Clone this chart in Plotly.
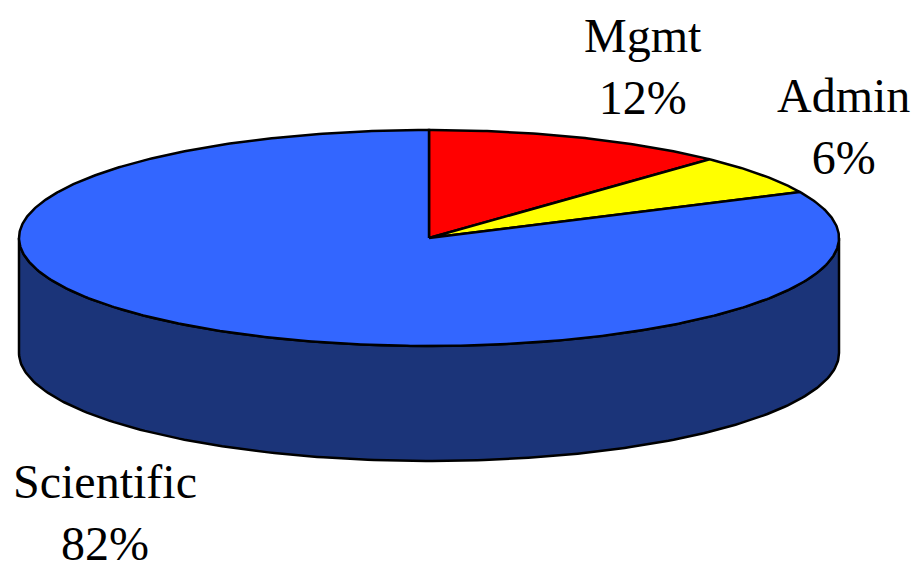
import numpy as np
import plotly.graph_objects as go

# Staff breakdown by category
labels = ["Mgmt", "Admin", "Scientific"]
values = [12, 6, 82]
colors = ["#FF0000", "#FFFF00", "#3366FF"]
side_color = "#1B3479"

# 3D pie geometry (drawn in pixel-like axis units)
cx, cy = 429.0, 238.0   # centre of the top face
rx, ry = 410.0, 108.0   # ellipse semi-axes
depth = 115.0           # thickness of the pie

W, H = 915, 571


def ell(theta_deg, dy=0.0):
    t = np.radians(theta_deg)
    return cx + rx * np.cos(t), cy - ry * np.sin(t) + dy


fig = go.Figure()

# Side wall: the front half of the rim (180deg -> 360deg)
t_side = np.linspace(180, 360, 200)
xt, yt = ell(t_side)
xb, yb = ell(t_side[::-1], depth)
fig.add_trace(go.Scatter(
    x=np.concatenate([xt, xb, xt[:1]]),
    y=np.concatenate([yt, yb, yt[:1]]),
    mode="lines", fill="toself", fillcolor=side_color,
    line=dict(color="black", width=2.5), hoverinfo="skip", showlegend=False,
))

# Top face slices, clockwise from 12 o'clock
total = float(sum(values))
start = 90.0
for lab, val, col in zip(labels, values, colors):
    sweep = 360.0 * val / total
    ts = np.linspace(start, start - sweep, max(int(sweep * 2), 8))
    xs, ys = ell(ts)
    fig.add_trace(go.Scatter(
        x=np.concatenate([[cx], xs, [cx]]),
        y=np.concatenate([[cy], ys, [cy]]),
        mode="lines", fill="toself", fillcolor=col,
        line=dict(color="black", width=2.5), hoverinfo="skip",
        showlegend=False, name=lab,
    ))
    start -= sweep

# Category labels with percentages
label_pos = {"Mgmt": (643, 66), "Admin": (843, 126), "Scientific": (105, 512)}
for lab, val in zip(labels, values):
    px, py = label_pos[lab]
    fig.add_annotation(
        x=px, y=py, xref="x", yref="y",
        text=f"{lab}<br>{round(100 * val / total)}%",
        showarrow=False, align="center",
        font=dict(family="'Liberation Serif', 'DejaVu Serif', serif",
                  size=48, color="black"),
    )

fig.update_layout(
    width=W, height=H,
    margin=dict(l=0, r=0, t=0, b=0),
    paper_bgcolor="white", plot_bgcolor="white",
    font=dict(family="'Liberation Serif', 'DejaVu Serif', serif"),
    xaxis=dict(range=[0, W], visible=False, fixedrange=True),
    yaxis=dict(range=[H, 0], visible=False, fixedrange=True),
)

fig.write_html("out.html")
